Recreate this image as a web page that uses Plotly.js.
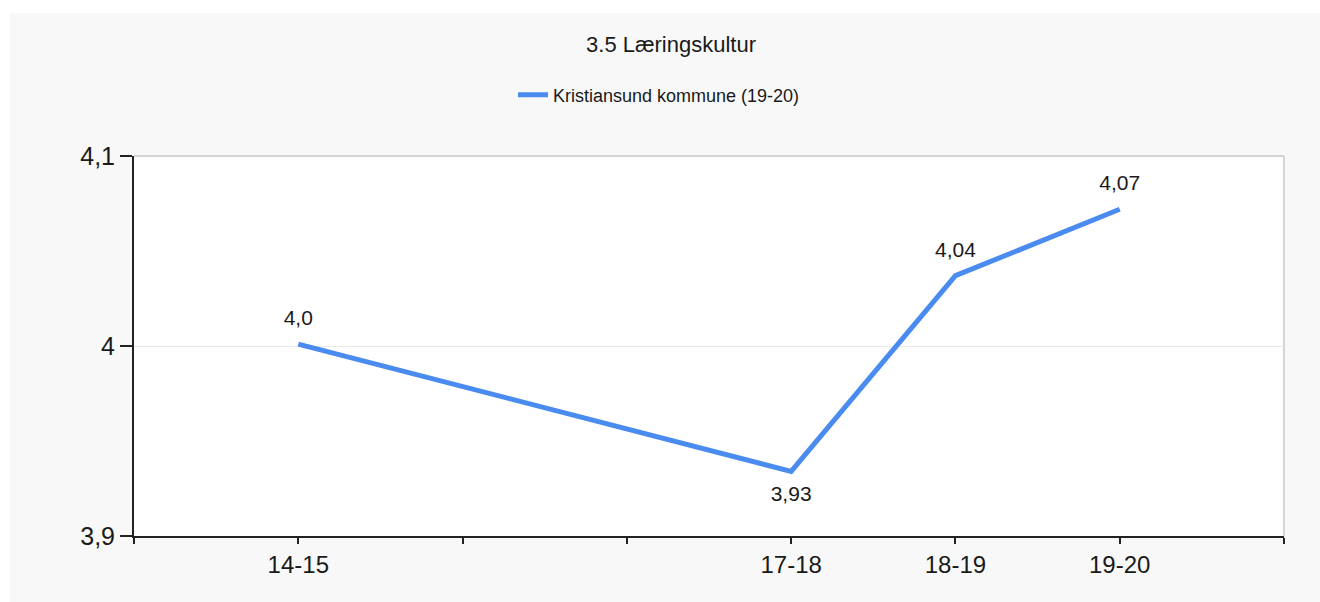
<!DOCTYPE html>
<html>
<head>
<meta charset="utf-8">
<script src="https://cdn.plot.ly/plotly-3.0.1.min.js"></script>
<style>
  html, body { margin: 0; padding: 0; background: #ffffff; width: 1320px; height: 602px; overflow: hidden; }
  #chart { position: absolute; left: 10px; top: 13px; width: 1310px; height: 589px; }
</style>
</head>
<body>
<div id="chart"></div>
<script>
// Data
const seasons = ["14-15", "15-16", "16-17", "17-18", "18-19", "19-20"];
const shownSeasons = ["14-15", "17-18", "18-19", "19-20"];
const values = [4.001, null, null, 3.934, 4.037, 4.072];
const valueLabels = ["4,0", "", "", "3,93", "4,04", "4,07"];
const labelPositions = ["top center", "top center", "top center", "bottom center", "top center", "top center"];
const yTicks = [3.9, 4.0, 4.1];
const yTickLabels = ["3,9", "4", "4,1"];
const seriesName = "Kristiansund kommune (19-20)";
const chartTitle = "3.5 Læringskultur";

const xIdx = seasons.map((s, i) => i);
const xTickVals = [-1].concat(xIdx, [seasons.length]);
const xTickText = [""].concat(seasons.map(s => shownSeasons.includes(s) ? s : ""), [""]);

const font = "Liberation Sans, Arial, sans-serif";

const trace = {
  x: xIdx,
  y: values,
  text: valueLabels,
  name: seriesName,
  type: "scatter",
  mode: "lines+markers+text",
  connectgaps: true,
  textposition: labelPositions,
  textfont: { family: font, size: 21, color: "#1a1a1a" },
  line: { color: "#4a8bef", width: 5 },
  marker: { size: 20, color: "rgba(0,0,0,0)" },
  cliponaxis: false,
  hoverinfo: "x+y"
};

const layout = {
  width: 1310,
  height: 589,
  paper_bgcolor: "#f8f8f8",
  plot_bgcolor: "#ffffff",
  margin: { l: 124, r: 36, t: 143, b: 66 },
  title: {
    text: chartTitle,
    font: { family: font, size: 22, color: "#1a1a1a" },
    x: 0.5046, xanchor: "center",
    y: 1 - 31 / 589, yanchor: "middle"
  },
  showlegend: true,
  legend: {
    orientation: "h",
    x: 0.4565, xanchor: "center",
    y: 1 - 82 / 589, yref: "container", yanchor: "middle",
    font: { family: font, size: 18, color: "#1a1a1a" },
    bgcolor: "rgba(0,0,0,0)"
  },
  xaxis: {
    type: "linear",
    range: [-1, seasons.length],
    tickmode: "array",
    tickvals: xTickVals,
    ticktext: xTickText,
    showgrid: false,
    zeroline: false,
    showline: true,
    linecolor: "#222222",
    linewidth: 2,
    ticks: "outside",
    ticklen: 6,
    tickwidth: 2,
    tickcolor: "#222222",
    tickfont: { family: font, size: 24, color: "#1a1a1a" },
    fixedrange: true
  },
  yaxis: {
    range: [3.9, 4.1],
    tickmode: "array",
    tickvals: yTicks,
    ticktext: yTickLabels,
    showgrid: true,
    gridcolor: "#e9e9e9",
    gridwidth: 1,
    zeroline: false,
    showline: true,
    linecolor: "#222222",
    linewidth: 2,
    ticks: "outside",
    ticklen: 12,
    tickwidth: 2,
    tickcolor: "#222222",
    tickfont: { family: font, size: 25, color: "#1a1a1a" },
    fixedrange: true
  },
  shapes: [
    { type: "line", xref: "paper", yref: "paper", x0: 0, x1: 1, y0: 1, y1: 1, line: { color: "#d4d4d4", width: 2 }, layer: "below" },
    { type: "line", xref: "paper", yref: "paper", x0: 1, x1: 1, y0: 0, y1: 1, line: { color: "#d4d4d4", width: 2 }, layer: "below" }
  ]
};

Plotly.newPlot("chart", [trace], layout, { displayModeBar: false, staticPlot: true });
</script>
</body>
</html>
